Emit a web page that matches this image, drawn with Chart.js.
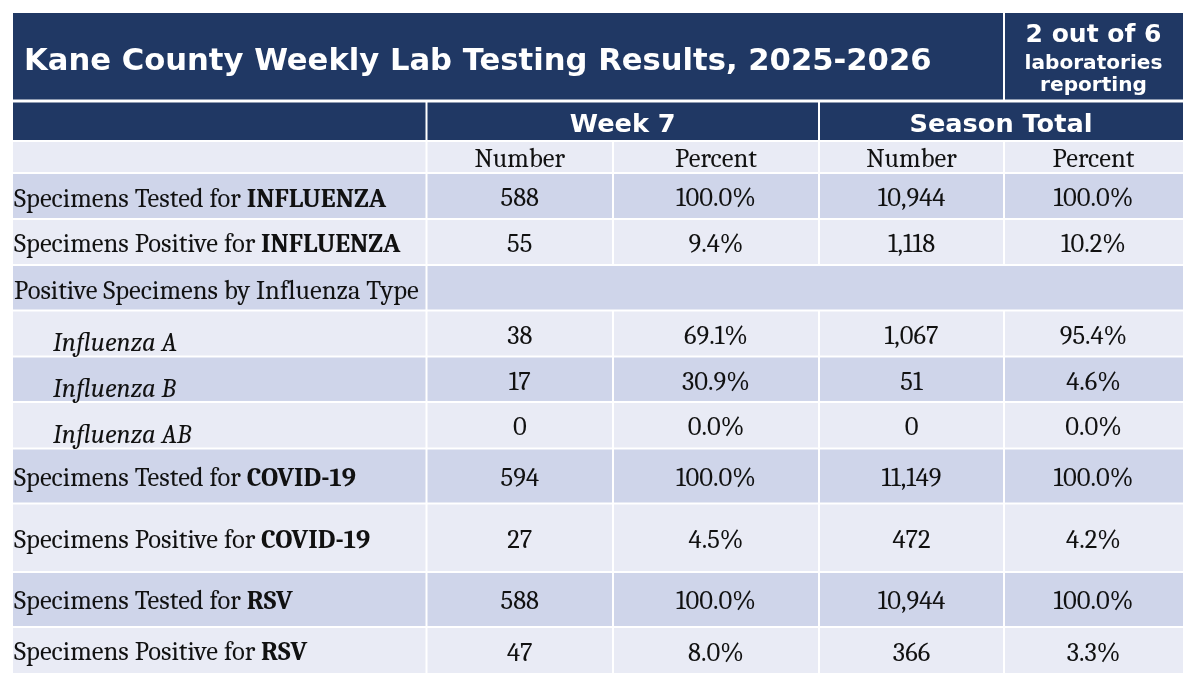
<!DOCTYPE html>
<html>
<head>
<meta charset="utf-8">
<script src="https://cdn.jsdelivr.net/npm/chart.js@4.4.1/dist/chart.umd.min.js"></script>
<style>
html, body { margin: 0; padding: 0; background: #ffffff; }
canvas { display: block; }
</style>
</head>
<body>
<canvas id="c" width="1200" height="677"></canvas>
<script>
// ---------------- DATA ----------------
const titleText = 'Kane County Weekly Lab Testing Results, 2025-2026';
const reportingLines = ['2 out of 6', 'laboratories', 'reporting'];
const periodHeaders = ['Week 7', 'Season Total'];
const measureHeaders = ['Number', 'Percent', 'Number', 'Percent'];
const rowLabels = [
  'Specimens Tested for INFLUENZA',
  'Specimens Positive for INFLUENZA',
  'Positive Specimens by Influenza Type',
  'Influenza A',
  'Influenza B',
  'Influenza AB',
  'Specimens Tested for COVID-19',
  'Specimens Positive for COVID-19',
  'Specimens Tested for RSV',
  'Specimens Positive for RSV'
];
const rowBold = ['INFLUENZA', 'INFLUENZA', '', '', '', '', 'COVID-19', 'COVID-19', 'RSV', 'RSV'];
const week7Number   = [588, 55, null, 38, 17, 0, 594, 27, 588, 47];
const week7Percent  = [100.0, 9.4, null, 69.1, 30.9, 0.0, 100.0, 4.5, 100.0, 8.0];
const seasonNumber  = [10944, 1118, null, 1067, 51, 0, 11149, 472, 10944, 366];
const seasonPercent = [100.0, 10.2, null, 95.4, 4.6, 0.0, 100.0, 4.2, 100.0, 3.3];

// ---------------- LAYOUT / STYLE ----------------
const LAYOUT = {
  width: 1200, height: 677,
  colEdges: [13, 426.5, 613, 819, 1004, 1183],
  titleBand: [13, 99.5],
  periodBand: [102.5, 141],
  measureBand: [141, 173],
  rowEdges: [173, 219, 265, 310.5, 356.5, 402, 448.5, 503.5, 572, 627, 673],
  labelBase: [206.5, 252, 299, 351, 397, 443, 486, 547.5, 608.5, 660],
  valueBase: [206, 251.5, 299, 343.5, 389.5, 435, 486, 548, 609, 660.5],
  mergedRows: [2],
  subtypeRows: [3, 4, 5],
  labelX: 14, subtypeX: 53,
  titleX: 24, titleBase: 70, titleWidth: 908,
  periodBase: 131.5, periodWidth: 183,
  reportBase: [41.5, 68.5, 91], reportWidths: [136, 138],
  measureBase: 167,
  bodyFitText: 'Positive Specimens by Influenza Type', bodyFitWidth: 405,
  gap: 1,
  navy: '#203864', dark: '#CFD5EA', light: '#E9EBF5', ink: '#111111', white: '#FFFFFF',
  sans: '"DejaVu Sans", Verdana, sans-serif',
  serif: 'Cambria, Caladea, "DejaVu Serif", serif'
};

const valueColumns = [
  { values: week7Number, kind: 'n', col: 1 },
  { values: week7Percent, kind: 'p', col: 2 },
  { values: seasonNumber, kind: 'n', col: 3 },
  { values: seasonPercent, kind: 'p', col: 4 }
];

function colCenter(c) { return (LAYOUT.colEdges[c] + LAYOUT.colEdges[c + 1]) / 2; }
function fmt(v, kind) {
  return kind === 'p' ? v.toFixed(1) + '%' : v.toLocaleString('en-US');
}
function fitSize(ctx, text, font, target) {
  ctx.font = font.replace('{s}', '100px');
  return 100 * target / ctx.measureText(text).width;
}

const tablePlugin = {
  id: 'tablePlugin',
  beforeDatasetsDraw(chart) {
    const ctx = chart.ctx;
    const xs = chart.scales.x, ys = chart.scales.y;
    const X = v => xs.getPixelForValue(v);
    const Y = v => ys.getPixelForValue(v);
    const E = LAYOUT.colEdges, g = LAYOUT.gap;
    const tableBottom = LAYOUT.rowEdges[LAYOUT.rowEdges.length - 1];

    function cell(c0, c1, y0, y1, color, topInset, botInset) {
      const l = X(E[c0]) + (c0 > 0 ? g : 0);
      const r = X(E[c1]) - (c1 < E.length - 1 ? g : 0);
      const t = Y(y0) + topInset;
      const b = Y(y1) - botInset;
      ctx.fillStyle = color;
      ctx.fillRect(l, t, r - l, b - t);
    }

    ctx.save();
    ctx.fillStyle = LAYOUT.white;
    ctx.fillRect(0, 0, chart.width, chart.height);

    // title band
    cell(0, 4, LAYOUT.titleBand[0], LAYOUT.titleBand[1], LAYOUT.navy, 0, 0);
    cell(4, 5, LAYOUT.titleBand[0], LAYOUT.titleBand[1], LAYOUT.navy, 0, 0);
    // period band
    cell(0, 1, LAYOUT.periodBand[0], LAYOUT.periodBand[1], LAYOUT.navy, 0, g);
    cell(1, 3, LAYOUT.periodBand[0], LAYOUT.periodBand[1], LAYOUT.navy, 0, g);
    cell(3, 5, LAYOUT.periodBand[0], LAYOUT.periodBand[1], LAYOUT.navy, 0, g);
    // measure band
    for (let c = 0; c < 5; c++) cell(c, c + 1, LAYOUT.measureBand[0], LAYOUT.measureBand[1], LAYOUT.light, g, g);
    // data rows
    for (let i = 0; i < rowLabels.length; i++) {
      const y0 = LAYOUT.rowEdges[i], y1 = LAYOUT.rowEdges[i + 1];
      const color = i % 2 === 0 ? LAYOUT.dark : LAYOUT.light;
      const bi = y1 === tableBottom ? 0 : g;
      cell(0, 1, y0, y1, color, g, bi);
      if (LAYOUT.mergedRows.includes(i)) {
        cell(1, 5, y0, y1, color, g, bi);
      } else {
        for (let c = 1; c < 5; c++) cell(c, c + 1, y0, y1, color, g, bi);
      }
    }

    // ---- header texts ----
    ctx.textBaseline = 'alphabetic';
    const titleFont = 'bold {s} ' + LAYOUT.sans;
    const tSize = fitSize(ctx, titleText, titleFont, LAYOUT.titleWidth);
    ctx.font = titleFont.replace('{s}', tSize + 'px');
    ctx.fillStyle = LAYOUT.white;
    ctx.textAlign = 'left';
    ctx.fillText(titleText, X(LAYOUT.titleX), Y(LAYOUT.titleBase));

    ctx.textAlign = 'center';
    const rc = (E[4] + E[5]) / 2;
    const r1 = fitSize(ctx, reportingLines[0], titleFont, LAYOUT.reportWidths[0]);
    ctx.font = titleFont.replace('{s}', r1 + 'px');
    ctx.fillText(reportingLines[0], X(rc), Y(LAYOUT.reportBase[0]));
    const r2 = fitSize(ctx, reportingLines[1], titleFont, LAYOUT.reportWidths[1]);
    ctx.font = titleFont.replace('{s}', r2 + 'px');
    ctx.fillText(reportingLines[1], X(rc), Y(LAYOUT.reportBase[1]));
    ctx.fillText(reportingLines[2], X(rc), Y(LAYOUT.reportBase[2]));

    const pSize = fitSize(ctx, periodHeaders[1], titleFont, LAYOUT.periodWidth);
    ctx.font = titleFont.replace('{s}', pSize + 'px');
    ctx.fillText(periodHeaders[0], X((E[1] + E[3]) / 2), Y(LAYOUT.periodBase));
    ctx.fillText(periodHeaders[1], X((E[3] + E[5]) / 2), Y(LAYOUT.periodBase));

    // ---- body texts ----
    const bs = fitSize(ctx, LAYOUT.bodyFitText, 'normal {s} ' + LAYOUT.serif, LAYOUT.bodyFitWidth);
    chart.$bodySize = bs;
    ctx.fillStyle = LAYOUT.ink;
    ctx.font = bs + 'px ' + LAYOUT.serif;
    ctx.textAlign = 'center';
    measureHeaders.forEach((h, k) => {
      ctx.fillText(h, X(colCenter(k + 1)), Y(LAYOUT.measureBase));
    });

    ctx.textAlign = 'left';
    rowLabels.forEach((lab, i) => {
      const base = Y(LAYOUT.labelBase[i]);
      if (LAYOUT.subtypeRows.includes(i)) {
        ctx.font = 'italic ' + bs + 'px ' + LAYOUT.serif;
        ctx.fillText(lab, X(LAYOUT.subtypeX), base);
        return;
      }
      const bold = rowBold[i];
      const plain = bold ? lab.slice(0, lab.length - bold.length) : lab;
      ctx.font = bs + 'px ' + LAYOUT.serif;
      ctx.fillText(plain, X(LAYOUT.labelX), base);
      if (bold) {
        const w = ctx.measureText(plain).width;
        ctx.font = 'bold ' + bs + 'px ' + LAYOUT.serif;
        ctx.fillText(bold, X(LAYOUT.labelX) + w, base);
      }
    });
    ctx.restore();
  },
  afterDatasetsDraw(chart) {
    const ctx = chart.ctx;
    ctx.save();
    ctx.fillStyle = LAYOUT.ink;
    ctx.textAlign = 'center';
    ctx.textBaseline = 'alphabetic';
    ctx.font = chart.$bodySize + 'px ' + LAYOUT.serif;
    chart.data.datasets.forEach((ds, di) => {
      const meta = chart.getDatasetMeta(di);
      meta.data.forEach((el, j) => {
        const raw = ds.data[j];
        ctx.fillText(fmt(raw.v, ds.kind), el.x, el.y);
      });
    });
    ctx.restore();
  }
};

const datasets = valueColumns.map((vc, k) => ({
  label: measureHeaders[k],
  kind: vc.kind,
  data: vc.values
    .map((v, i) => (v === null ? null : { x: colCenter(vc.col), y: LAYOUT.valueBase[i], v: v }))
    .filter(d => d !== null),
  pointRadius: 0,
  pointHoverRadius: 0,
  showLine: false
}));

new Chart(document.getElementById('c'), {
  type: 'scatter',
  data: { datasets },
  options: {
    responsive: false,
    animation: false,
    events: [],
    layout: { padding: 0 },
    plugins: { legend: { display: false }, tooltip: { enabled: false }, title: { display: false } },
    scales: {
      x: { type: 'linear', display: false, min: 0, max: LAYOUT.width },
      y: { type: 'linear', display: false, min: 0, max: LAYOUT.height, reverse: true }
    }
  },
  plugins: [tablePlugin]
});
</script>
</body>
</html>
